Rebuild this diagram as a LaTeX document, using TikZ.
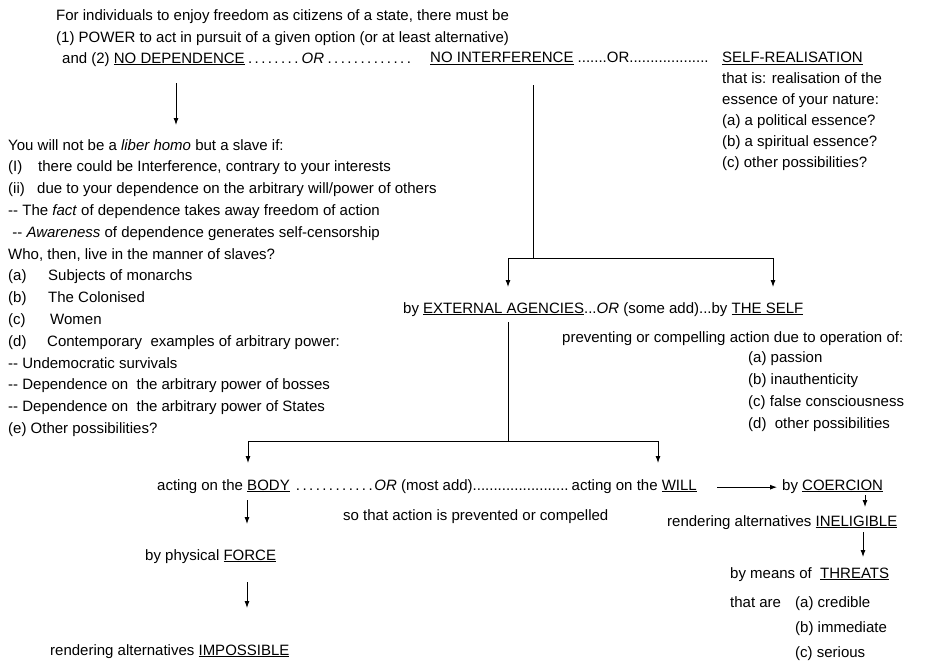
\documentclass[tikz,border=0pt]{standalone}
\usepackage{fontspec}
\setmainfont{Liberation Sans}
\usetikzlibrary{arrows.meta,calc}
\newcommand{\ul}[1]{\underline{#1}}
\newcommand{\dts}[1]{\makebox[#1pt]{\dotfill}}
\newcommand{\lab}[2]{\makebox[#1pt][l]{#2}}
\begin{document}
\begin{tikzpicture}[x=1pt,y=-1pt,
  txt/.style={anchor=north west,inner sep=0pt,align=left,font=\fontsize{15}{21}\selectfont},
  arr/.style={-{Latex[length=7pt,width=5pt]},line width=0.9pt},
  ln/.style={line width=0.9pt}]
\useasboundingbox (0,0) rectangle (931,661);
% top lines
\node[txt] (l1) at (56,9) {For individuals to enjoy freedom as citizens of a state, there must be};
\node[txt] (l2) at (56,31) {(1) POWER to act in pursuit of a given option (or at least alternative)};
\node[txt] (l3a) at (62,52) {and (2) \ul{NO DEPENDENCE}\dts{57}\textit{OR}\dts{90}};
\node[txt] (l3b) at (430,52) {\ul{NO INTERFERENCE} .......OR...................};
\node[txt] (sr) at (722,52) {\ul{SELF-REALISATION}\\that is: realisation of the\\essence of your nature:\\(a) a political essence?\\(b) a spiritual essence?\\(c) other possibilities?};
% left block
\node[txt,font=\fontsize{15}{21.8}\selectfont] (slave) at (8,139) {You will not be a \textit{liber homo} but a slave if:\\
\lab{30}{(I)}there could be Interference, contrary to your interests\\
\lab{29}{(ii)}due to your dependence on the arbitrary will/power of others\\
-{}- The \textit{fact} of dependence takes away freedom of action\\
\ -{}- \textit{Awareness} of dependence generates self-censorship\\
Who, then, live in the manner of slaves?\\
\lab{40}{(a)}Subjects of monarchs\\
\lab{40}{(b)}The Colonised\\
\lab{42}{(c)}Women\\
\lab{39}{(d)}Contemporary\ \ examples of arbitrary power:\\
-{}- Undemocratic survivals\\
-{}- Dependence on\ \ the arbitrary power of bosses\\
-{}- Dependence on\ \ the arbitrary power of States\\
(e) Other possibilities?};
% middle
\node[txt] (ext) at (403,302) {by \ul{EXTERNAL AGENCIES}...\textit{OR} (some add)...by \ul{THE SELF}};
\node[txt] (prev) at (562,331) {preventing or compelling action due to operation of:};
\node[txt,font=\fontsize{15}{22}\selectfont] (pass) at (748,351) {(a) passion\\(b) inauthenticity\\(c) false consciousness\\(d)\ \ other possibilities};
% bottom
\node[txt] (body) at (157,479) {acting on the \ul{BODY}};
\node[txt] (ormost) at (body.north east) {\ \dts{80}\textit{OR} (most add).......................};
\node[txt,anchor=north east] (will) at (697,479) {acting on the \ul{WILL}};
\node[txt] (coer) at (782,479) {by \ul{COERCION}};
\node[txt] (sothat) at (343,509) {so that action is prevented or compelled};
\node[txt] (inel) at (667,515) {rendering alternatives \ul{INELIGIBLE}};
\node[txt] (threat) at (730,567) {by means of\ \ \ul{THREATS}};
\node[txt] (thatare) at (730,596) {that are};
\node[txt,font=\fontsize{15}{25}\selectfont] (cred) at (795,596) {(a) credible\\(b) immediate\\(c) serious};
\node[txt] (force) at (145,549) {by physical \ul{FORCE}};
\node[txt] (imp) at (50,644) {rendering alternatives \ul{IMPOSSIBLE}};
% coordinates
\coordinate (a1) at (176,83);
\coordinate (b1) at (533,85);
\coordinate (b2) at (533,258);
\coordinate (bl) at (508,258);
\coordinate (br) at (773,258);
\coordinate (c1) at (508,322);
\coordinate (c2) at (508,441);
\coordinate (cl) at (248,441);
\coordinate (cr) at (658,441);
\coordinate (k1) at (865,495);
\coordinate (i1) at (863,532);
\coordinate (f1) at (247,500);
\coordinate (f3) at (247,582);
% connectors
\draw[arr] (a1) -- (a1 |- slave.north) [shorten >=14pt];
\draw[ln] (b1) -- (b2);
\draw[ln] (bl) -- (br);
\draw[arr] (bl) -- (bl |- ext.north) [shorten >=15pt];
\draw[arr] (br) -- (br |- ext.north) [shorten >=15pt];
\draw[ln] (c1) -- (c2);
\draw[ln] (cl) -- (cr);
\draw[arr] (cl) -- (cl |- body.north) [shorten >=16pt];
\draw[arr] (cr) -- (cr |- body.north) [shorten >=16pt];
\draw[arr] ($(will.east)+(20,1)$) -- ($(coer.west)+(-5,1)$);
\draw[arr] (k1) -- (k1 |- inel.north) [shorten >=8pt];
\draw[arr] (i1) -- (i1 |- threat.north) [shorten >=10pt];
\draw[arr] (f1) -- (f1 |- force.north) [shorten >=25pt];
\draw[arr] (f3) -- (f3 |- imp.north) [shorten >=36pt];
\end{tikzpicture}
\end{document}
